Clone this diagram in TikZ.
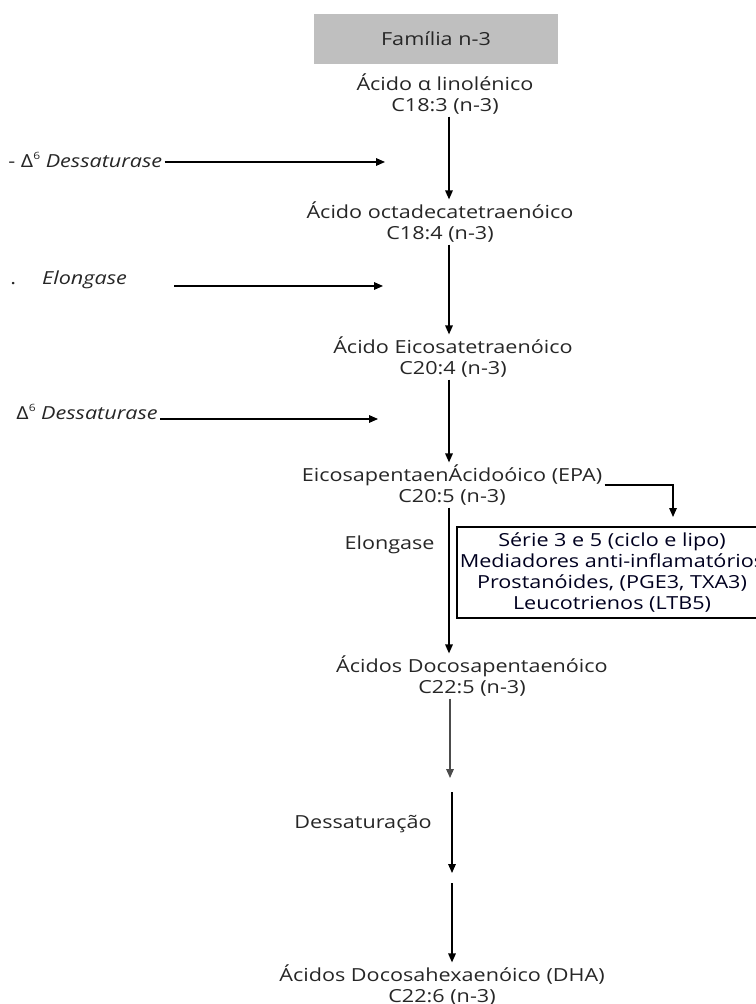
\documentclass[tikz,border=0pt]{standalone}
\usepackage{fontspec}
\setmainfont{Open Sans}[FakeStretch=1.2]
\usepackage{tikz}
\usetikzlibrary{positioning,arrows.meta}

\newcommand{\sobre}[1]{\raisebox{0.9ex}{\fontsize{5}{5}\selectfont #1}}

\tikzset{
  txt/.style={align=center,inner sep=1pt,text=black!85,font=\fontsize{9}{10.4}\selectfont},
  lbl/.style={inner sep=1pt,text=black!85,font=\fontsize{9}{10.4}\selectfont},
  arr/.style={line width=0.65pt,-{Triangle[length=4.5pt,width=3.8pt]}},
}

\begin{document}
\begin{tikzpicture}[x=0.5pt,y=-0.5pt]
  \useasboundingbox (0,0) rectangle (755,1004);
  % cabecalho
  \node[txt,fill=black!25,minimum width=122pt,minimum height=25pt] (fam) at (436,39) {Família n-3};
  % cadeia principal
  \node[txt] (ala) at (445,94) {Ácido α linolénico\\C18:3 (n-3)};
  \node[txt] (oct) at (440,222) {Ácido octadecatetraenóico\\C18:4 (n-3)};
  \node[txt] (eic) at (453,357) {Ácido Eicosatetraenóico\\C20:4 (n-3)};
  \node[txt] (epa) at (452,485) {EicosapentaenÁcidoóico (EPA)\\C20:5 (n-3)};
  \node[txt] (dpa) at (472,676) {Ácidos Docosapentaenóico\\C22:5 (n-3)};
  \node[txt] (dha) at (442,985) {Ácidos Docosahexaenóico (DHA)\\C22:6 (n-3)};
  \node[txt,draw,line width=0.6pt,minimum width=155pt,minimum height=45.5pt,text=black!88!blue] (serie) at (612,572.5)
    {Série 3 e 5 (ciclo e lipo)\\Mediadores anti-inflamatórios\\Prostanóides, (PGE3, TXA3)\\Leucotrienos (LTB5)};
  \coordinate (col) at (449,0);
  \draw[arr] (ala.south -| col) -- (oct.north -| col);
  \draw[arr] (oct.south -| col) -- (eic.north -| col);
  \draw[arr] (eic.south -| col) -- (epa.north -| col);
  \draw[arr] (epa.south -| col) -- (dpa.north -| col);
  \coordinate (g1) at (450,778);
  \coordinate (g2) at (452,792);
  \coordinate (g3) at (452,873);
  \coordinate (g4) at (452,883);
  \draw[arr,black!70] (dpa.south -| g1) -- (g1);
  \draw[arr] (g2) -- (g3);
  \draw[arr] (g4) -- (dha.north -| g4);
  % EPA -> mediadores
  \coordinate (epatip) at (673,517);
  \draw[arr] (epa.east) -| (epatip);
  % enzimas
  \node[lbl,anchor=west] (des1) at (6,160) {- Δ\sobre{6} \textit{Dessaturase}};
  \node[lbl,anchor=west] (elo1) at (8,280) {.\hspace{13pt}\textit{Elongase}};
  \node[lbl,anchor=west] (des2) at (14,412) {Δ\sobre{6} \textit{Dessaturase}};
  \node[lbl,anchor=east] (elo2) at (437,545) {Elongase};
  \node[lbl,anchor=east] (dsat) at (434,824) {Dessaturação};
  \coordinate (t1) at (385,162);
  \coordinate (s2) at (174,286);
  \coordinate (t2) at (383,286);
  \coordinate (t3) at (378,419);
  \draw[arr] (des1.east |- t1) -- (t1);
  \draw[arr] (s2) -- (t2);
  \draw[arr] (des2.east |- t3) -- (t3);
\end{tikzpicture}
\end{document}
